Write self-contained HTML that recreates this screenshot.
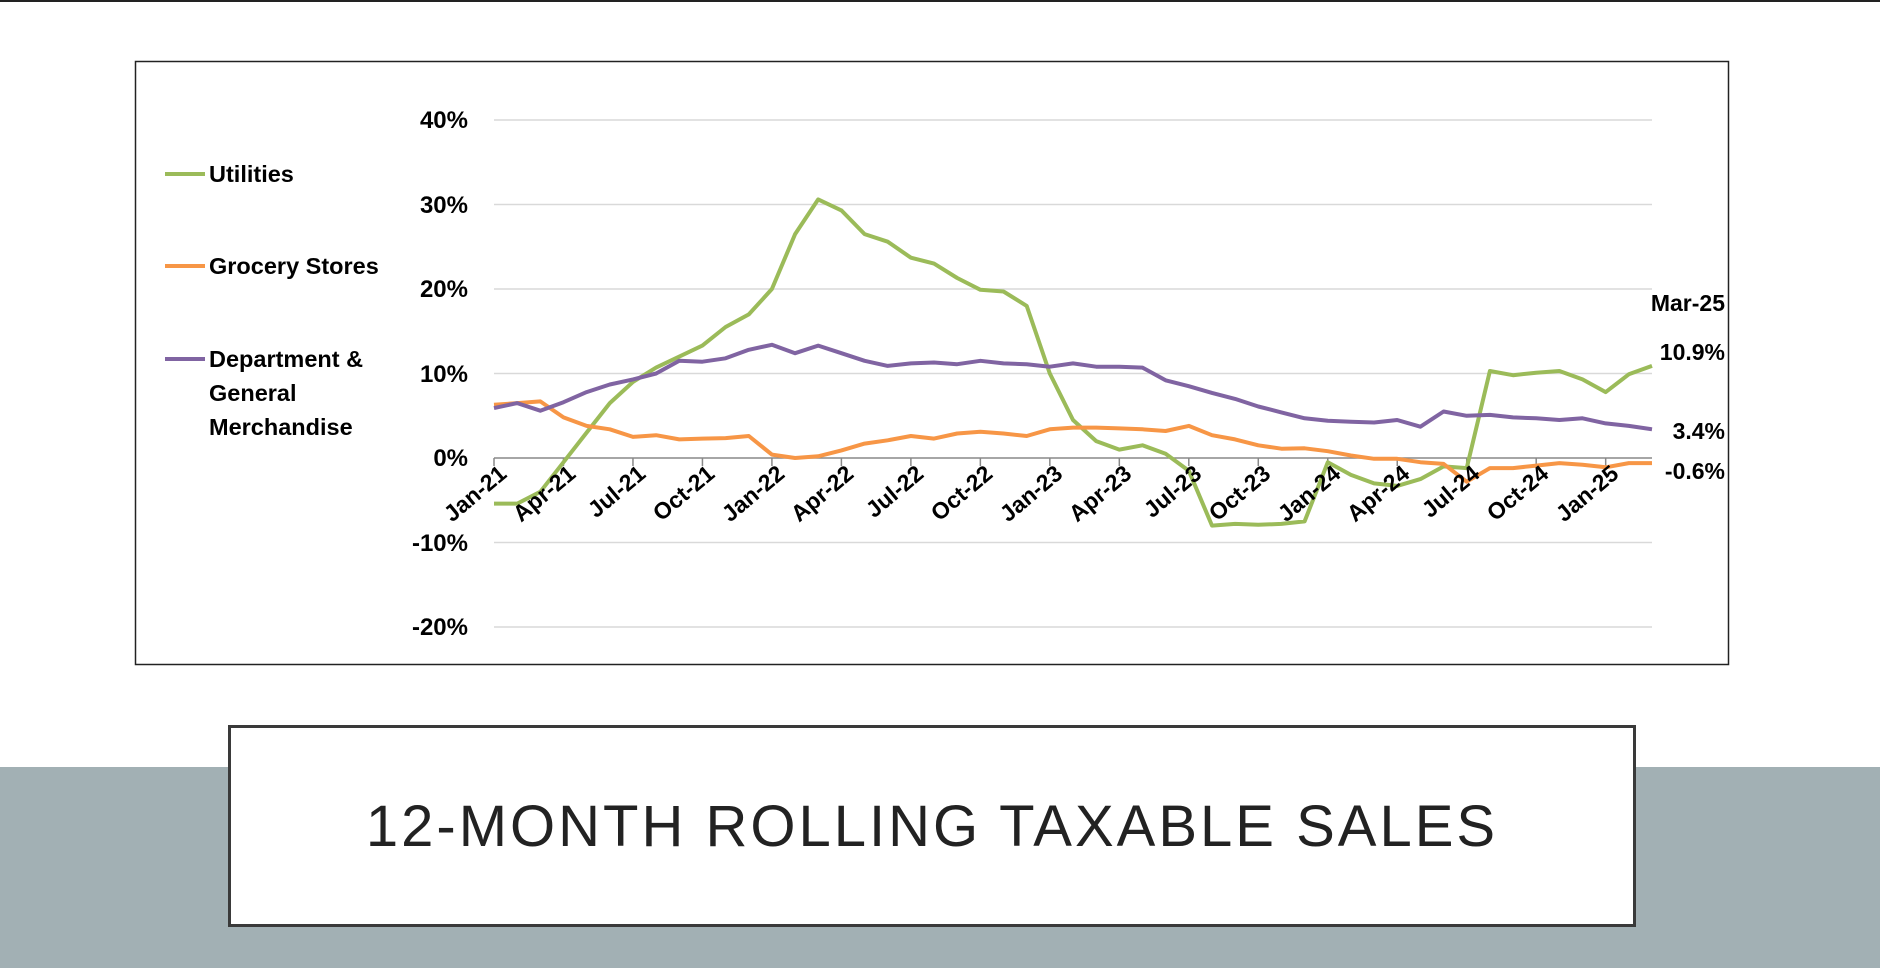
<!DOCTYPE html>
<html><head><meta charset="utf-8"><style>
html,body{margin:0;padding:0;background:#fff;}
body{width:1880px;height:968px;position:relative;overflow:hidden;font-family:"Liberation Sans",sans-serif;}
#topline{position:absolute;left:0;top:0;width:1880px;height:2px;background:#222;}
#band{position:absolute;left:0;top:767px;width:1880px;height:201px;background:#a2b0b4;}
#box{position:absolute;left:228px;top:725px;width:1402px;height:196px;border:3px solid #3a3a3a;background:#fff;display:flex;align-items:center;justify-content:center;}
#box span{font-size:58px;letter-spacing:3px;color:#222;font-weight:normal;}
svg{position:absolute;left:0;top:0;}
</style></head><body>
<div id="topline"></div>
<div id="band"></div>
<div id="box"><span>12-MONTH ROLLING TAXABLE SALES</span></div>
<svg width="1880" height="968" viewBox="0 0 1880 968">
<rect x="135.5" y="61.5" width="1593" height="603" fill="#fff" stroke="#222" stroke-width="1.5"/>
<g stroke="#d9d9d9" stroke-width="1.5">
<line x1="494" x2="1652" y1="120" y2="120"/>
<line x1="494" x2="1652" y1="204.5" y2="204.5"/>
<line x1="494" x2="1652" y1="289" y2="289"/>
<line x1="494" x2="1652" y1="373.5" y2="373.5"/>
<line x1="494" x2="1652" y1="542.5" y2="542.5"/>
<line x1="494" x2="1652" y1="627" y2="627"/>
</g>
<g id="ticks" stroke="#888" stroke-width="1.5"><line x1="494" x2="1652" y1="458" y2="458"/></g>
<g font-weight="bold" font-size="24" text-anchor="end" fill="#000">
<text x="468" y="128">40%</text>
<text x="468" y="213">30%</text>
<text x="468" y="297">20%</text>
<text x="468" y="382">10%</text>
<text x="468" y="466">0%</text>
<text x="468" y="551">-10%</text>
<text x="468" y="635">-20%</text>
</g>
<path id="pg" fill="none" stroke="#9bbb59" stroke-width="4" stroke-linejoin="round"/>
<path id="po" fill="none" stroke="#f79646" stroke-width="4" stroke-linejoin="round"/>
<path id="pp" fill="none" stroke="#8064a2" stroke-width="4" stroke-linejoin="round"/>
<g font-weight="bold" font-size="23.5" fill="#000">
<line x1="165" x2="205" y1="174" y2="174" stroke="#9bbb59" stroke-width="4"/>
<text x="209" y="182">Utilities</text>
<line x1="165" x2="205" y1="266" y2="266" stroke="#f79646" stroke-width="4"/>
<text x="209" y="274">Grocery Stores</text>
<line x1="165" x2="205" y1="359" y2="359" stroke="#8064a2" stroke-width="4"/>
<text x="209" y="367">Department &amp;</text>
<text x="209" y="401">General</text>
<text x="209" y="435">Merchandise</text>
</g>
<g font-weight="bold" font-size="23" text-anchor="end" fill="#000">
<text x="1725" y="311">Mar-25</text>
<text x="1725" y="360">10.9%</text>
<text x="1725" y="439">3.4%</text>
<text x="1725" y="479">-0.6%</text>
</g>
</svg>
<script>
var U=[-5.4,-5.4,-4,-0.5,3,6.5,9,10.7,12,13.3,15.5,17,
20,26.5,30.6,29.3,26.5,25.6,23.7,23,21.3,19.9,19.7,18,
10,4.5,2,1,1.5,0.5,-1.5,-8,-7.8,-7.9,-7.8,-7.5,
-0.5,-2,-3,-3.3,-2.5,-1,-1.2,10.3,9.8,10.1,10.3,9.3,
7.8,9.9,10.9];
var G=[6.3,6.5,6.7,4.8,3.8,3.4,2.5,2.7,2.2,2.3,2.35,2.6,
0.4,0,0.2,0.9,1.7,2.1,2.6,2.3,2.9,3.1,2.9,2.6,
3.4,3.6,3.6,3.5,3.4,3.2,3.8,2.7,2.2,1.5,1.1,1.15,
0.8,0.3,-0.1,-0.1,-0.5,-0.7,-2.8,-1.2,-1.2,-0.9,-0.6,-0.8,
-1.1,-0.6,-0.6];
var P=[5.9,6.5,5.6,6.6,7.8,8.7,9.3,10,11.5,11.4,11.8,12.8,
13.4,12.4,13.3,12.4,11.5,10.9,11.2,11.3,11.1,11.5,11.2,11.1,
10.8,11.2,10.8,10.8,10.7,9.2,8.5,7.7,7,6.1,5.4,4.7,
4.4,4.3,4.2,4.5,3.7,5.5,5.0,5.1,4.8,4.7,4.5,4.7,
4.1,3.8,3.4];
var x0=494,dx=(1652-494)/50,y0=458,k=8.45;
function d(a){return a.map(function(v,i){return (i?'L':'M')+(x0+i*dx).toFixed(1)+','+(y0-v*k).toFixed(1);}).join('');}
document.getElementById('pg').setAttribute('d',d(U));
document.getElementById('po').setAttribute('d',d(G));
document.getElementById('pp').setAttribute('d',d(P));
var ns='http://www.w3.org/2000/svg',tg=document.getElementById('ticks');
for(var i=0;i<=50;i+=3){var x=x0+i*dx;var l=document.createElementNS(ns,'line');l.setAttribute('x1',x);l.setAttribute('x2',x);l.setAttribute('y1',458);l.setAttribute('y2',466);tg.appendChild(l);}
</script>
<svg width="1880" height="968" viewBox="0 0 1880 968" style="position:absolute;left:0;top:0">
<g font-weight="bold" font-size="23" text-anchor="end" fill="#000">
<text transform="translate(508,476) rotate(-40)">Jan-21</text>
<text transform="translate(577,476) rotate(-40)">Apr-21</text>
<text transform="translate(647,476) rotate(-40)">Jul-21</text>
<text transform="translate(716,476) rotate(-40)">Oct-21</text>
<text transform="translate(786,476) rotate(-40)">Jan-22</text>
<text transform="translate(855,476) rotate(-40)">Apr-22</text>
<text transform="translate(925,476) rotate(-40)">Jul-22</text>
<text transform="translate(994,476) rotate(-40)">Oct-22</text>
<text transform="translate(1064,476) rotate(-40)">Jan-23</text>
<text transform="translate(1133,476) rotate(-40)">Apr-23</text>
<text transform="translate(1203,476) rotate(-40)">Jul-23</text>
<text transform="translate(1272,476) rotate(-40)">Oct-23</text>
<text transform="translate(1342,476) rotate(-40)">Jan-24</text>
<text transform="translate(1411,476) rotate(-40)">Apr-24</text>
<text transform="translate(1481,476) rotate(-40)">Jul-24</text>
<text transform="translate(1550,476) rotate(-40)">Oct-24</text>
<text transform="translate(1620,476) rotate(-40)">Jan-25</text>
</g>
</svg>
</body></html>
